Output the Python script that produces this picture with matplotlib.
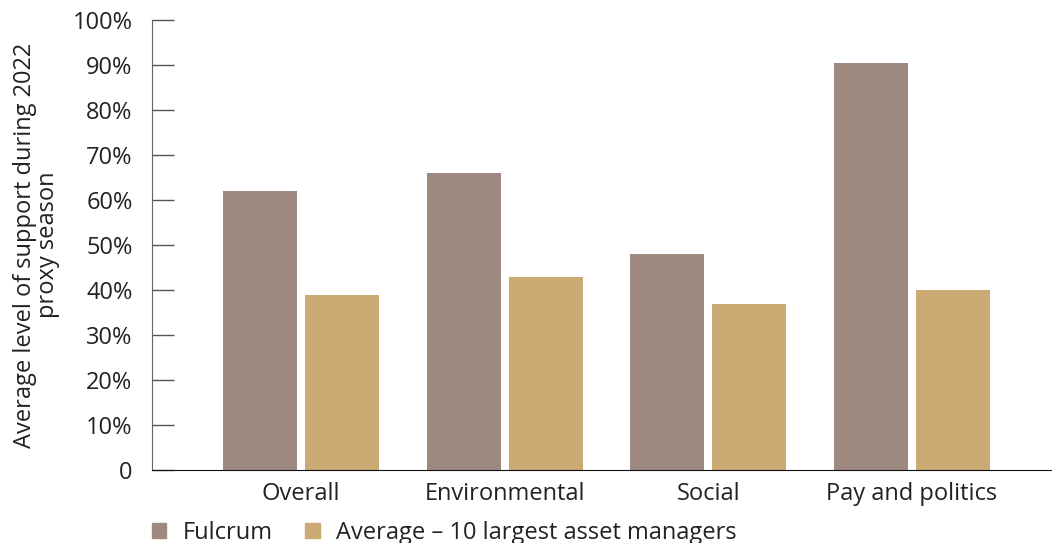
import matplotlib.pyplot as plt
from matplotlib.patches import Patch
import numpy as np

plt.rcParams['font.family'] = ['Open Sans', 'DejaVu Sans']

categories = ['Overall', 'Environmental', 'Social', 'Pay and politics']
fulcrum = [62, 66, 48, 90.5]
average_top10 = [39, 43, 37, 40]
yticks = [0, 10, 20, 30, 40, 50, 60, 70, 80, 90, 100]
ytick_labels = ['0'] + [str(v) + '%' for v in yticks[1:]]

col_fulcrum = '#9e8981'
col_avg = '#cbaa73'

fig = plt.figure(figsize=(10.52, 5.43), dpi=100)
ax = fig.add_axes([0.1445, 0.1344, 0.8555, 0.8286])

x = np.arange(len(categories))
w = 0.363
ax.bar(x - 0.201, fulcrum, width=w, color=col_fulcrum)
ax.bar(x + 0.201, average_top10, width=w, color=col_avg)

ax.set_xlim(-0.731, 3.687)
ax.set_ylim(0, 100)
ax.set_yticks(yticks)
ax.set_yticklabels(ytick_labels)
ax.set_xticks(x)
ax.set_xticklabels(categories)

fs = 17
ax.tick_params(axis='y', direction='in', length=16, width=1, color='#555555',
               pad=14, labelsize=fs, labelcolor='#222222')
ax.tick_params(axis='x', length=0, pad=8.5, labelsize=fs, labelcolor='#222222')

for s in ['top', 'right']:
    ax.spines[s].set_visible(False)
ax.spines['left'].set_color('#666666')
ax.spines['bottom'].set_color('#111111')

ax.set_ylabel('Average level of support during 2022\nproxy season', fontsize=fs,
              color='#222222', linespacing=0.95)
ax.yaxis.set_label_coords(-0.102, 0.5)

handles = [Patch(color=col_fulcrum, label='Fulcrum'),
           Patch(color=col_avg, label='Average \u2013 10 largest asset managers')]
fig.legend(handles=handles, loc='lower left', bbox_to_anchor=(0.124, -0.043),
           ncol=2, frameon=False, fontsize=fs, handlelength=0.6, handleheight=0.6,
           handletextpad=0.7, columnspacing=1.4, labelcolor='#222222')

fig.savefig('out.png', dpi=100)
